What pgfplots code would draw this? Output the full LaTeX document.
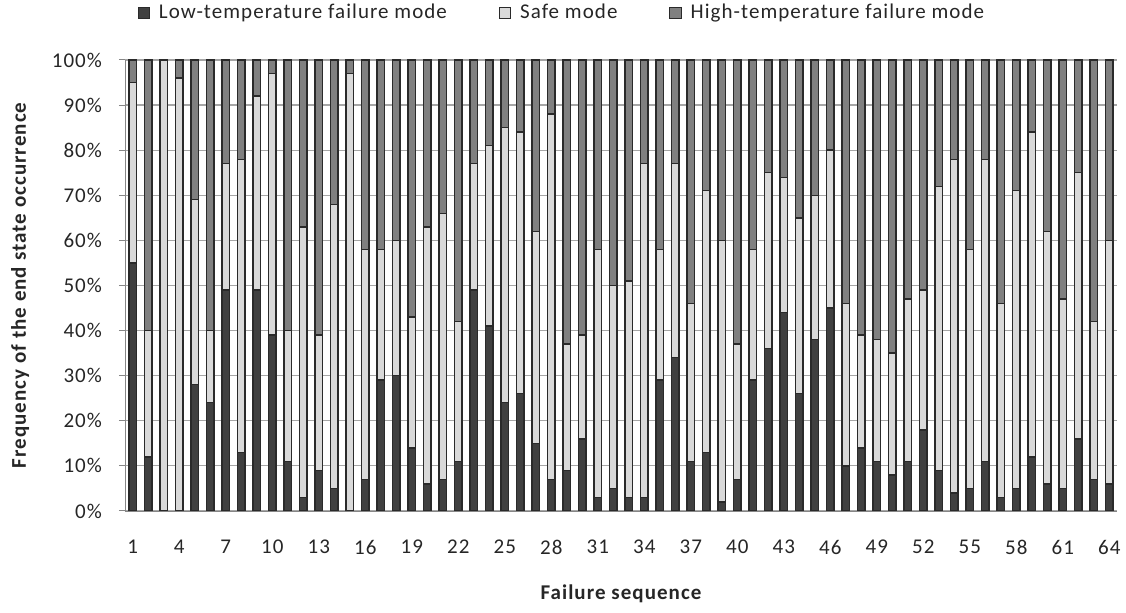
\documentclass[border=0pt]{standalone}
\usepackage{fontspec}
\setmainfont{Carlito}[LetterSpace=5]
\usepackage{pgfplots}
\pgfplotsset{compat=1.18}
\usepackage{pgfplotstable}
\definecolor{lowc}{HTML}{404040}
\definecolor{safec}{HTML}{D9D9D9}
\definecolor{highc}{HTML}{808080}
\definecolor{edgec}{HTML}{2A2A2A}
\definecolor{gridc}{HTML}{A6A6A6}
\definecolor{axc}{HTML}{868686}

\pgfplotstableread{
seq low safe high
1 55 40 5
2 12 28 60
3 0 100 0
4 0 96 4
5 28 41 31
6 24 16 60
7 49 28 23
8 13 65 22
9 49 43 8
10 39 58 3
11 11 29 60
12 3 60 37
13 9 30 61
14 5 63 32
15 0 97 3
16 7 51 42
17 29 29 42
18 30 30 40
19 14 29 57
20 6 57 37
21 7 59 34
22 11 31 58
23 49 28 23
24 41 40 19
25 24 61 15
26 26 58 16
27 15 47 38
28 7 81 12
29 9 28 63
30 16 23 61
31 3 55 42
32 5 45 50
33 3 48 49
34 3 74 23
35 29 29 42
36 34 43 23
37 11 35 54
38 13 58 29
39 2 58 40
40 7 30 63
41 29 29 42
42 36 39 25
43 44 30 26
44 26 39 35
45 38 32 30
46 45 35 20
47 10 36 54
48 14 25 61
49 11 27 62
50 8 27 65
51 11 36 53
52 18 31 51
53 9 63 28
54 4 74 22
55 5 53 42
56 11 67 22
57 3 43 54
58 5 66 29
59 12 72 16
60 6 56 38
61 5 42 53
62 16 59 25
63 7 35 58
64 6 54 40
}\data

\begin{document}
\begin{tikzpicture}
\path[use as bounding box] (-62.5pt,-51pt) rectangle (500.5pt,255.5pt);
\begin{axis}[
  at={(0,0)}, anchor=south west,
  scale only axis, width=496pt, height=225.5pt,
  ybar stacked, bar width=0.48,
  xmin=0.5, xmax=64.5, ymin=0, ymax=100,
  axis lines*=left,
  axis line style={axc, -},
  ytick={0,10,...,100},
  yticklabels={0\%,10\%,20\%,30\%,40\%,50\%,60\%,70\%,80\%,90\%,100\%},
  xtick={1,4,...,64},
  xticklabels={1,4,7,10,13,16,19,22,25,28,31,34,37,40,43,46,49,52,55,58,61,64},
  major x tick style={draw=none},
  extra x ticks={0.5,1.5,...,64.5},
  extra x tick labels={},
  extra x tick style={grid=none, major tick length=3pt, tick align=outside, tick style={axc, line width=0.5pt}},
  y tick style={axc, line width=0.5pt},
  ytick align=outside, major tick length=3pt,
  ymajorgrids, grid style={gridc, line width=0.6pt},
  tick label style={font=\fontsize{10.5}{12}\selectfont, text=black!85},
  yticklabel style={xshift=-5pt},
  xticklabel style={yshift=-11pt},
  xlabel={Failure sequence},
  ylabel={Frequency of the end state occurrence},
  label style={font=\bfseries\fontsize{10.5}{12}\selectfont, text=black!85},
  xlabel style={at={(axis description cs:0.5,-0.184)}, anchor=center},
  ylabel style={at={(axis description cs:-0.1058,0.5)}, anchor=center},
  legend columns=3,
  legend style={draw=none, fill=none, at={(0.4415,1.104)}, anchor=center,
    font=\fontsize{10.5}{12}\selectfont, text=black!85,
    /tikz/every even column/.append style={column sep=24pt}},
  legend image code/.code={\draw[#1, line width=0.5pt] (0pt,-2.8pt) rectangle (5.6pt,2.8pt); \path (8pt,0pt);},
  every axis plot/.append style={draw=edgec, line width=0.7pt},
]
\addplot[fill=lowc] table[x=seq, y=low] {\data};
\addplot[fill=safec] table[x=seq, y=safe] {\data};
\addplot[fill=highc] table[x=seq, y=high] {\data};
\legend{Low-temperature failure mode, Safe mode, High-temperature failure mode}
\end{axis}
\end{tikzpicture}
\end{document}
